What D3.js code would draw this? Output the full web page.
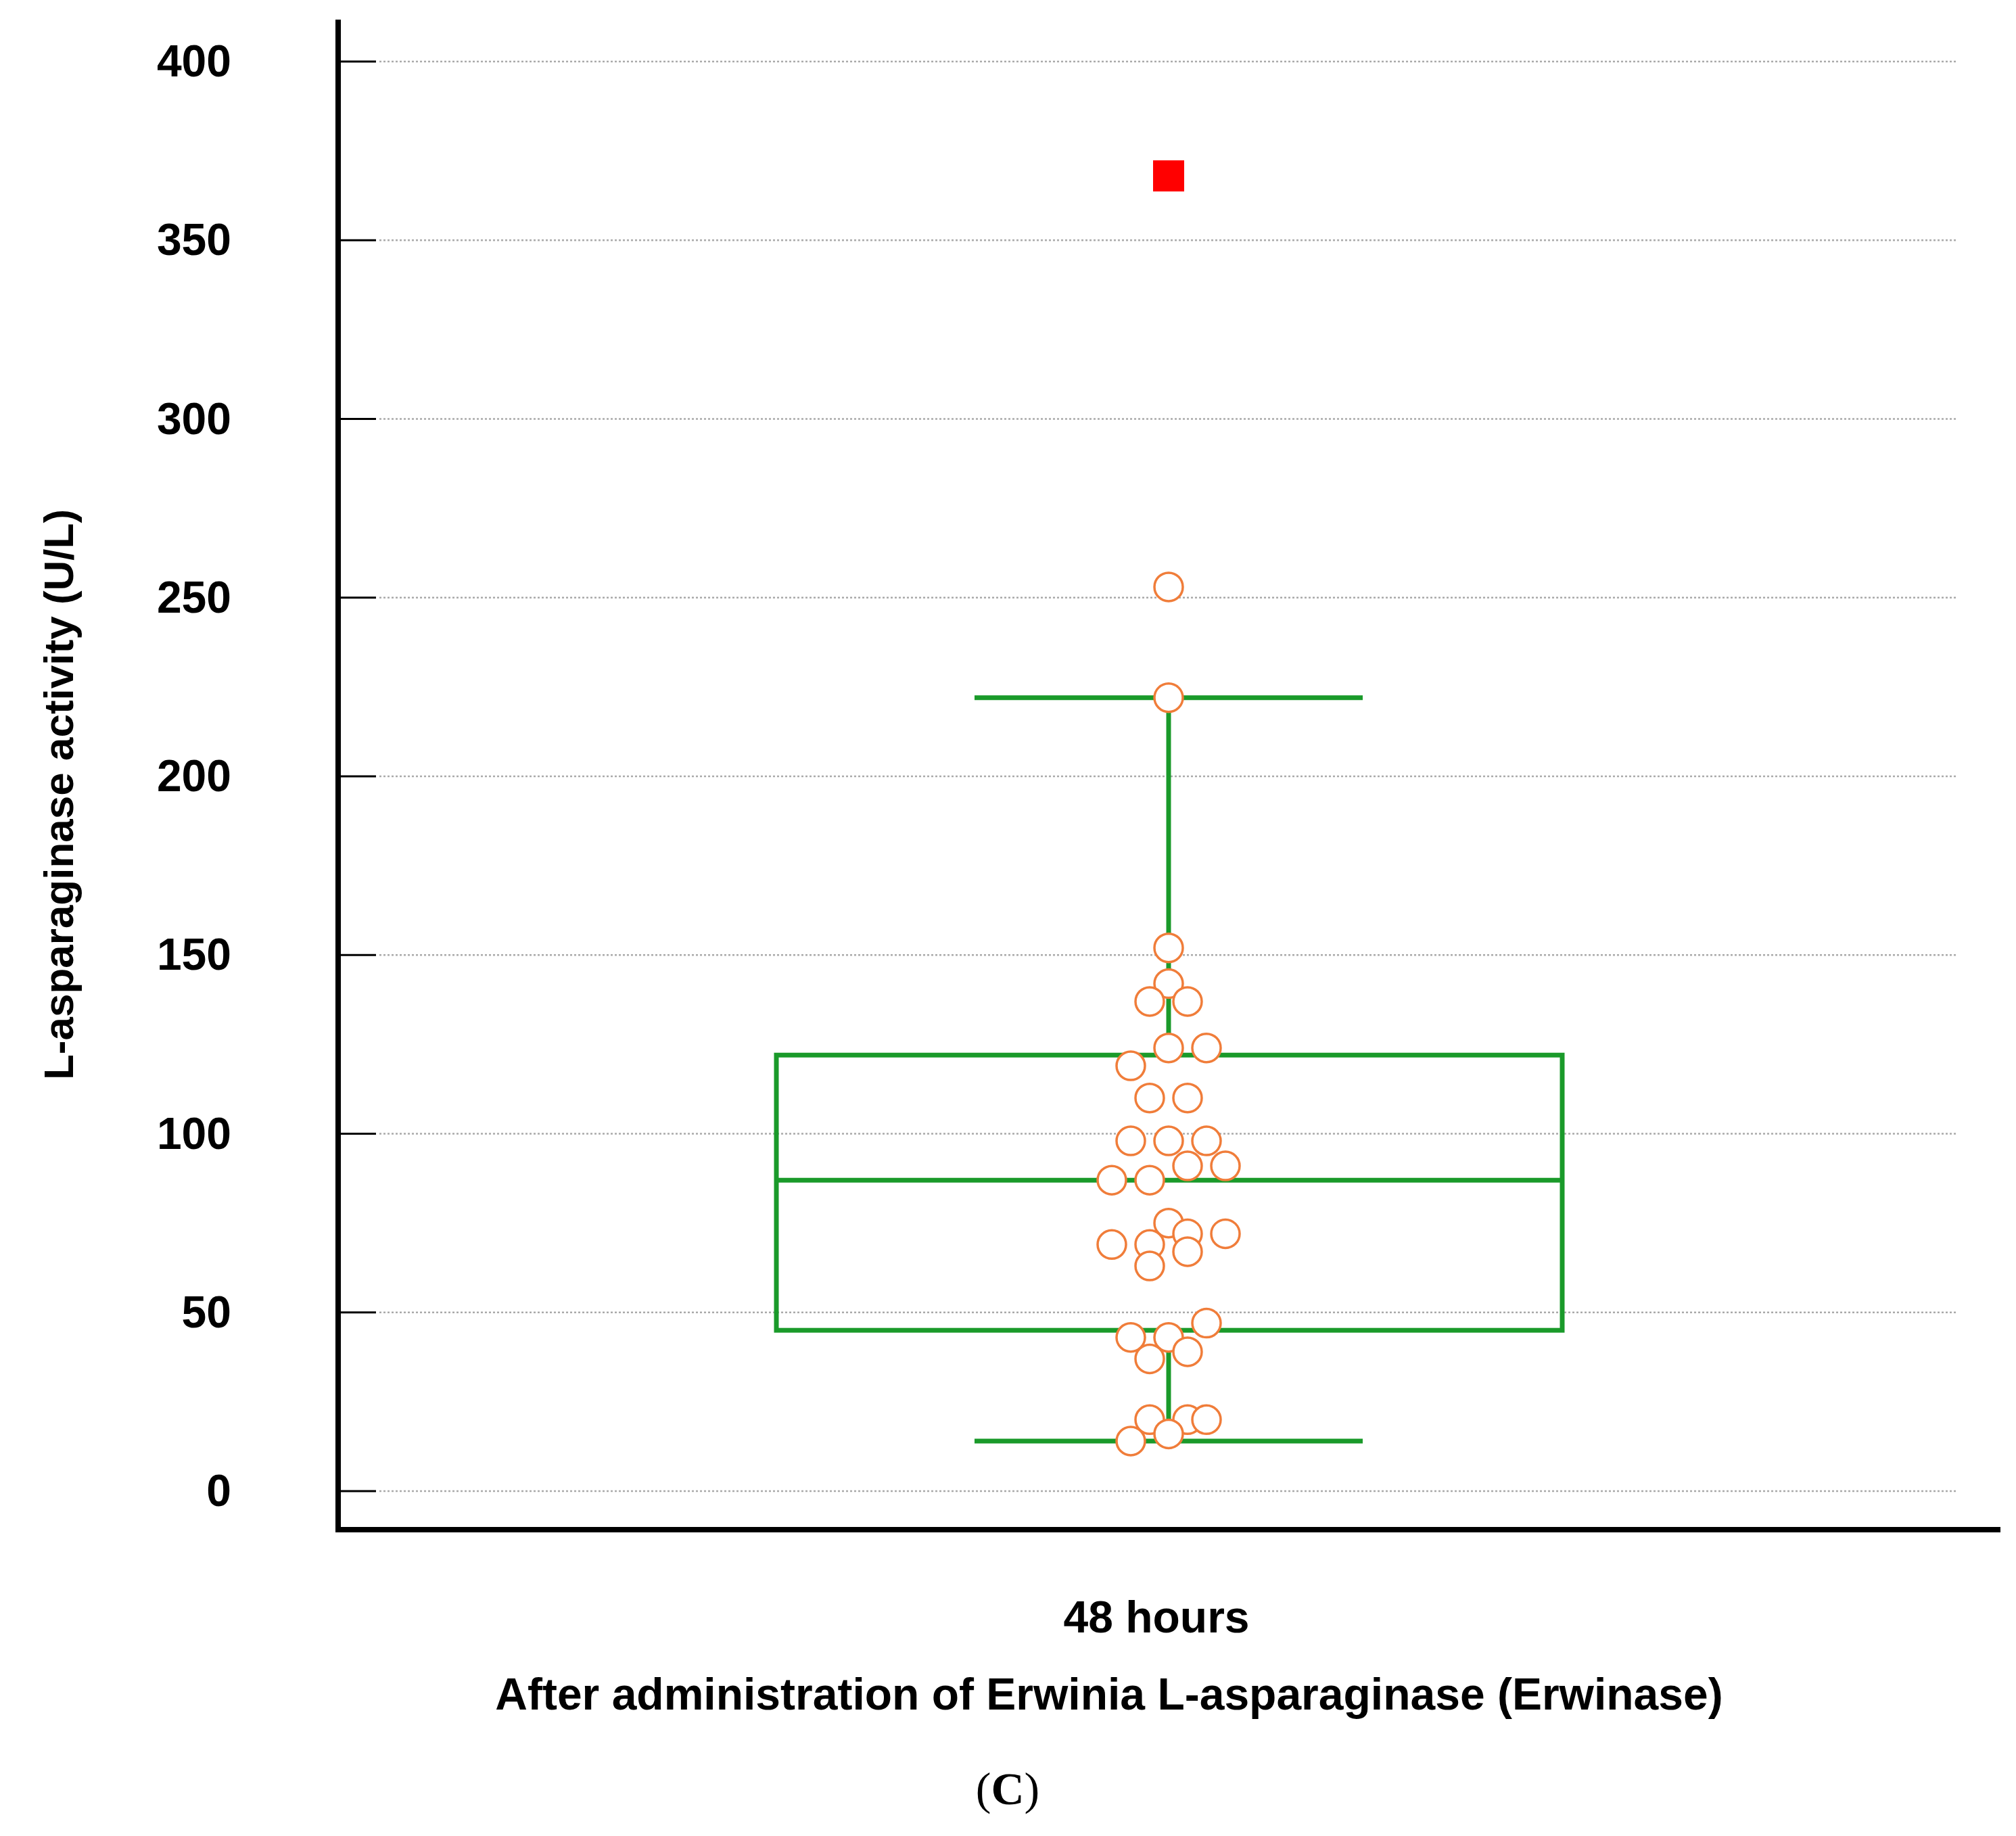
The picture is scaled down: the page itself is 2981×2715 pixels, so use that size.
<!DOCTYPE html>
<html lang="en">
<head>
<meta charset="utf-8">
<title>L-asparaginase activity</title>
<script src="https://d3js.org/d3.v7.min.js"></script>
<style>
  body { margin: 0; background: #fff; }
  .tick-label { font-family: "Liberation Sans Narrow", "Liberation Sans", sans-serif; font-weight: bold; }
</style>
</head>
<body>
<script>
// chart size
var w = 2981, h = 2715;

// data
var yTicks = [0, 50, 100, 150, 200, 250, 300, 350, 400];
var boxStats = {low: 14, q1: 45, median: 87, q3: 122, high: 222};
var outliers = [368];
// point values and their horizontal jitter slot (-3..3)
var pointValues = [253, 222, 152, 142, 137, 137, 124, 124, 119, 110, 110, 98, 98, 98, 91, 91, 87, 87, 75, 72, 72, 69, 69, 67, 63, 47, 43, 43, 39, 37, 20, 20, 20, 16, 14];
var pointSlots  = [0, 0, 0, 0, -1, 1, 0, 2, -2, -1, 1, -2, 0, 2, 1, 3, -3, -1, 0, 1, 3, -3, -1, 1, -1, 2, -2, 0, 1, -1, -1, 1, 2, 0, -2];
var category = "48 hours";

var yScale = d3.scaleLinear().domain([0, 400]).range([2205, 91]);
var cx = 1728;
var slotW = 28;

var svg = d3.select("body").append("svg").attr("width", w).attr("height", h);

// grid lines and tick marks
yTicks.forEach(function(t){
  var y = yScale(t);
  svg.append("line").attr("x1", 561).attr("x2", 2895).attr("y1", y).attr("y2", y)
     .attr("stroke", "#aaa").attr("stroke-width", 2.5).attr("stroke-dasharray", "3,3");
  svg.append("line").attr("x1", 502).attr("x2", 556).attr("y1", y).attr("y2", y)
     .attr("stroke", "#000").attr("stroke-width", 3);
  svg.append("text").attr("class", "tick-label").attr("x", 342).attr("y", y + 22)
     .attr("text-anchor", "end").attr("font-size", 66).text(t);
});

// axes
svg.append("line").attr("x1", 500).attr("x2", 500).attr("y1", 29).attr("y2", 2266)
   .attr("stroke", "#000").attr("stroke-width", 8);
svg.append("line").attr("x1", 496).attr("x2", 2958).attr("y1", 2262).attr("y2", 2262)
   .attr("stroke", "#000").attr("stroke-width", 8);

// box plot
var green = "#1a9a2a";
var bw = 7;
svg.append("rect").attr("x", 1148).attr("width", 2310 - 1148)
   .attr("y", yScale(boxStats.q3)).attr("height", yScale(boxStats.q1) - yScale(boxStats.q3))
   .attr("fill", "none").attr("stroke", green).attr("stroke-width", bw);
svg.append("line").attr("x1", 1148).attr("x2", 2310)
   .attr("y1", yScale(boxStats.median)).attr("y2", yScale(boxStats.median))
   .attr("stroke", green).attr("stroke-width", bw);
svg.append("line").attr("x1", cx).attr("x2", cx).attr("y1", yScale(boxStats.q3)).attr("y2", yScale(boxStats.high))
   .attr("stroke", green).attr("stroke-width", bw);
svg.append("line").attr("x1", cx).attr("x2", cx).attr("y1", yScale(boxStats.q1)).attr("y2", yScale(boxStats.low))
   .attr("stroke", green).attr("stroke-width", bw);
[boxStats.low, boxStats.high].forEach(function(v){
  svg.append("line").attr("x1", 1441).attr("x2", 2015).attr("y1", yScale(v)).attr("y2", yScale(v))
     .attr("stroke", green).attr("stroke-width", bw);
});

// points
svg.selectAll("circle.pt").data(pointValues).enter().append("circle")
   .attr("class", "pt")
   .attr("cx", function(d, i){ return cx + pointSlots[i] * slotW; })
   .attr("cy", function(d){ return yScale(d); })
   .attr("r", 21)
   .attr("fill", "#fff").attr("stroke", "#f07d3a").attr("stroke-width", 3.5);

// outliers
svg.selectAll("rect.out").data(outliers).enter().append("rect")
   .attr("class", "out")
   .attr("x", cx - 23).attr("y", function(d){ return yScale(d) - 23; })
   .attr("width", 46).attr("height", 46).attr("fill", "#ff0000");

// labels
svg.append("text").attr("class", "tick-label").attr("x", 1710).attr("y", 2414)
   .attr("text-anchor", "middle").attr("font-size", 66).text(category);
svg.append("text").attr("class", "tick-label").attr("x", 1640).attr("y", 2528)
   .attr("text-anchor", "middle").attr("font-size", 66)
   .text("After administration of Erwinia L-asparaginase (Erwinase)");
svg.append("text").attr("class", "tick-label")
   .attr("transform", "translate(108,1175) rotate(-90)")
   .attr("text-anchor", "middle").attr("font-size", 62)
   .text("L-asparaginase  activity (U/L)");
svg.append("text").attr("x", 1490).attr("y", 2668).attr("text-anchor", "middle")
   .attr("font-family", "Liberation Serif, serif").attr("font-size", 68)
   .html('(<tspan font-weight="bold">C</tspan>)');
</script>
</body>
</html>
